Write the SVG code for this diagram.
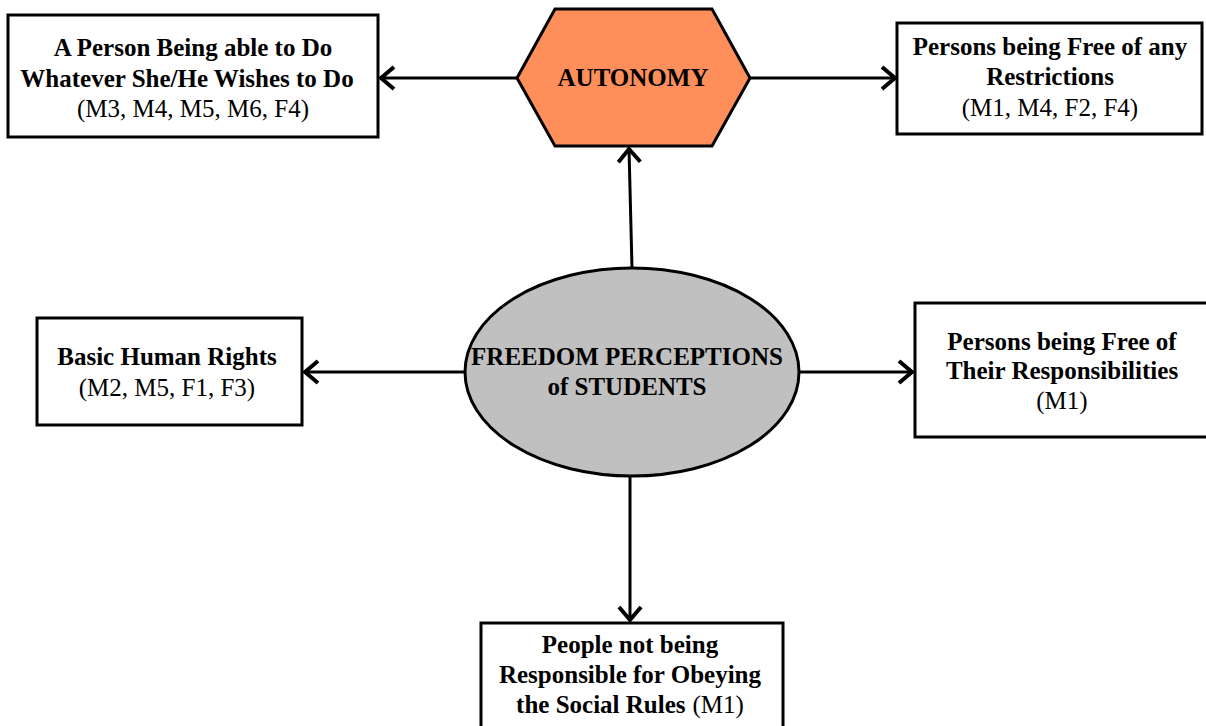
<svg xmlns="http://www.w3.org/2000/svg" width="1206" height="726" viewBox="0 0 1206 726">
<style>
.box{fill:#fff;stroke:#000;stroke-width:3}
.t{font-family:"Liberation Serif","Times New Roman",serif;font-size:25px;fill:#000;text-anchor:middle}
.b{font-weight:bold}
.c{stroke:#000;stroke-width:3;fill:none}
</style>
<defs>
<marker id="ah" markerUnits="userSpaceOnUse" markerWidth="30" markerHeight="30" refX="15" refY="12" orient="auto" viewBox="0 0 30 24">
<path d="M2,1 L15,12 L2,23" fill="none" stroke="#000" stroke-width="4"/>
</marker>
</defs>
<rect width="1206" height="726" fill="#fff"/>
<g id="connectors">
<line class="c" x1="517" y1="78" x2="381" y2="78" marker-end="url(#ah)"/>
<line class="c" x1="750" y1="78" x2="895" y2="78" marker-end="url(#ah)"/>
<line class="c" x1="632" y1="268" x2="629" y2="149" marker-end="url(#ah)"/>
<line class="c" x1="465" y1="372" x2="305" y2="372" marker-end="url(#ah)"/>
<line class="c" x1="799" y1="372" x2="912" y2="372" marker-end="url(#ah)"/>
<line class="c" x1="630" y1="477" x2="630" y2="620" marker-end="url(#ah)"/>
</g>
<g id="box-wishes">
<rect class="box" x="8" y="15" width="370" height="122"/>
<text class="t b" x="193" y="56">A Person Being able to Do</text>
<text class="t b" x="187" y="87">Whatever She/He Wishes to Do</text>
<text class="t" x="193" y="117">(M3, M4, M5, M6, F4)</text>
</g>
<g id="autonomy">
<polygon points="517,78 555,9 712,9 750,78 712,146 555,146" fill="#ff8f5a" stroke="#000" stroke-width="3"/>
<text class="t b" x="633" y="86">AUTONOMY</text>
</g>
<g id="box-restrictions">
<rect class="box" x="897" y="23" width="305" height="111"/>
<text class="t b" x="1050" y="55">Persons being Free of any</text>
<text class="t b" x="1050" y="85">Restrictions</text>
<text class="t" x="1050" y="116">(M1, M4, F2, F4)</text>
</g>
<g id="box-rights">
<rect class="box" x="37" y="318" width="265" height="107"/>
<text class="t b" x="167" y="365">Basic Human Rights</text>
<text class="t" x="167" y="396">(M2, M5, F1, F3)</text>
</g>
<g id="center">
<ellipse cx="632" cy="372" rx="167" ry="104" fill="#c0c0c0" stroke="#000" stroke-width="3"/>
<text class="t b" x="627" y="365">FREEDOM PERCEPTIONS</text>
<text class="t b" x="627" y="395">of STUDENTS</text>
</g>
<g id="box-responsibilities">
<rect class="box" x="915" y="303" width="300" height="134"/>
<text class="t b" x="1062" y="350">Persons being Free of</text>
<text class="t b" x="1062" y="379">Their Responsibilities</text>
<text class="t" x="1062" y="409">(M1)</text>
</g>
<g id="box-social">
<rect class="box" x="481" y="623" width="302" height="120"/>
<text class="t b" x="630" y="653">People not being</text>
<text class="t b" x="630" y="683">Responsible for Obeying</text>
<text class="t" x="630" y="713"><tspan class="b">the Social Rules</tspan><tspan dx="7">(M1)</tspan></text>
</g>
</svg>
